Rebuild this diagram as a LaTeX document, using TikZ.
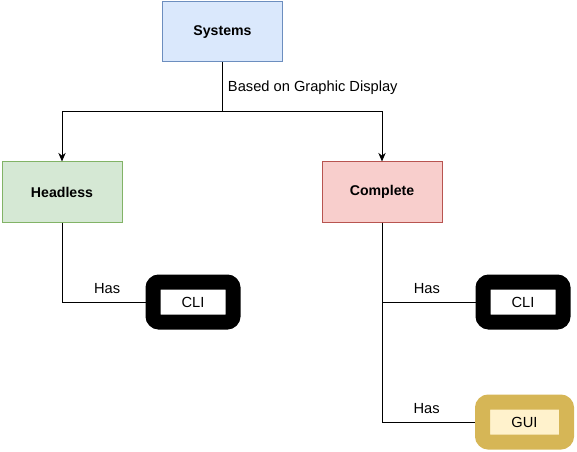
\documentclass[tikz,border=0pt]{standalone}
\usepackage{fontspec}
\setmainfont{Liberation Sans}
\usepackage{tikz}
\usetikzlibrary{arrows.meta}
\definecolor{sysfill}{HTML}{DAE8FC}
\definecolor{sysline}{HTML}{6C8EBF}
\definecolor{headfill}{HTML}{D5E8D4}
\definecolor{headline}{HTML}{82B366}
\definecolor{compfill}{HTML}{F8CECC}
\definecolor{compline}{HTML}{B85450}
\definecolor{guifill}{HTML}{FFF2CC}
\definecolor{guiline}{HTML}{D6B656}

\begin{document}
\begin{tikzpicture}[x=0.75pt,y=-0.75pt,
	every node/.style={font=\fontsize{11}{13}\selectfont},
	levelbox/.style={draw,line width=0.75pt,minimum width=90pt,minimum height=45pt,inner sep=0pt,font=\fontsize{10.6}{13}\selectfont\bfseries},
	toolbox/.style={draw=black,fill=white,line width=11.25pt,rounded corners=4.5pt,minimum width=60pt,minimum height=30pt,inner sep=0pt},
	link/.style={line width=0.75pt},
	tip/.style={-{Stealth[length=6.5pt,width=5.5pt]}}]
			\useasboundingbox (0,0) rectangle (577,452);
			\node[levelbox,fill=sysfill,draw=sysline] (systems) at (222.5,32) {Systems};
			\node[levelbox,fill=headfill,draw=headline] (headless) at (62,192) {Headless};
			\node[levelbox,fill=compfill,draw=compline] (complete) at (382,192) {Complete};
			\node[toolbox] (cliA) at (193,302) {CLI};
			\node[toolbox] (cliB) at (523,302) {CLI};
			\node[toolbox,fill=guifill,draw=guiline,minimum width=63pt] (gui) at (524.5,422) {GUI};
			\coordinate (split) at (222.5,112);
			\draw[link](systems)--(split) node[midway,right,xshift=0.4pt]{Based on Graphic Display};
			\draw[link,tip](split)-|(headless);
			\draw[link,tip](split)-|(complete);
			\draw[link](headless)|-(cliA) node[pos=.77,above=2.5pt]{Has};
			\draw[link](complete)|-(cliB) node[pos=.74,above=2.5pt]{Has};
			\draw[link](complete)|-(gui) node[pos=.74,above=2.5pt]{Has};
			\end{tikzpicture}
\end{document}
